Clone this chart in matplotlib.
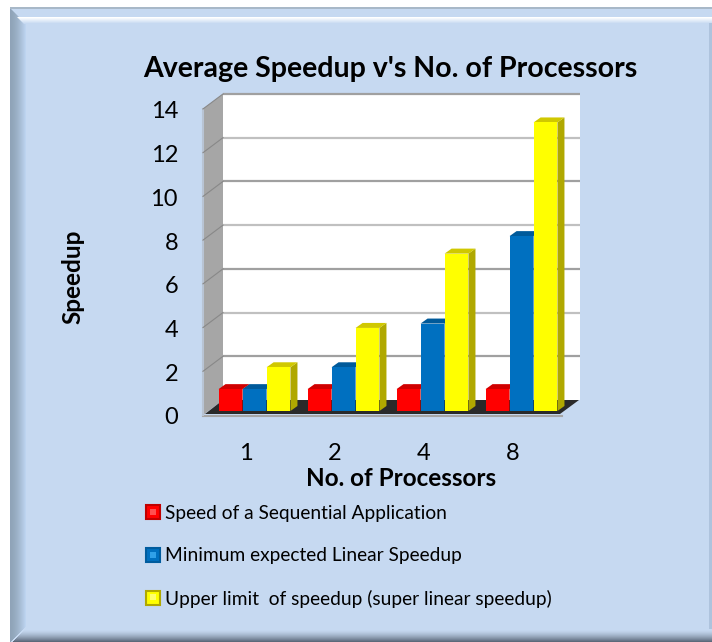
import matplotlib
matplotlib.use("Agg")
import matplotlib.pyplot as plt
from matplotlib.patches import Polygon, Rectangle, Patch
import numpy as np

plt.rcParams['font.family'] = ['Lato', 'DejaVu Sans']

# datos
procesadores = ['1', '2', '4', '8']
secuencial = [1, 1, 1, 1]
lineal = [1, 2, 4, 8]
superlineal = [2, 3.8, 7.2, 13.2]
yticks = [0, 2, 4, 6, 8, 10, 12, 14]

series = [secuencial, lineal, superlineal]
nombres = ['Speed of a Sequential Application',
           'Minimum expected Linear Speedup',
           'Upper limit  of speedup (super linear speedup)']
colores = ['#ff0000', '#0070c0', '#ffff00']
c_lado = ['#c00000', '#005c9e', '#b0a800']
c_arriba = ['#d00000', '#005a9a', '#d0c800']
c_brillo = ['#ff5050', '#30a0e8', '#ffff70']

W, H = 712, 642
fig = plt.figure(figsize=(W / 100, H / 100), dpi=100, facecolor='white')

# capa de fondo en pixeles: marco y paredes
bg = fig.add_axes([0, 0, 1, 1])
bg.set_xlim(0, W)
bg.set_ylim(H, 0)
bg.axis('off')
bg.add_patch(Rectangle((10, 8), W - 10, H - 8, color='#c6d9f1', lw=0))


def mezcla(c1, c2, t):
    return tuple(np.array(c1) * (1 - t) + np.array(c2) * t)


# bisel del marco
oscuro = (0.56, 0.64, 0.72)
claro = (0.74, 0.83, 0.94)
for i in range(16):
    bg.add_patch(Polygon([(10 + i, 8 + i), (11 + i, 9 + i), (11 + i, 642 - i), (10 + i, 642 - i)],
                         color=mezcla(oscuro, claro, (i / 15) ** 1.5), lw=0))
fondo = (0.776, 0.851, 0.945)
for i in range(7):
    bg.add_patch(Polygon([(17 + i, 17 + i), (W, 17 + i), (W, 18 + i), (18 + i, 18 + i)],
                         color=mezcla((1, 1, 1), fondo, i / 6), lw=0))
for i in range(13):
    x_ini = 25 - i
    bg.add_patch(Rectangle((x_ini, 629 + i), W - x_ini, 1,
                           color=mezcla(fondo, (0.36, 0.41, 0.48), (i / 12) ** 1.5), lw=0))
bg.add_patch(Rectangle((10, 7), W - 10, 1.5, color='#a8b8c8', lw=0))
bg.add_patch(Rectangle((709, 23), 3, 606, color='#aec3dd', lw=0))

# paredes del grafico
esc = 21.86
bg.add_patch(Rectangle((223, 94), 357, 306, color='white', lw=0))
bg.add_patch(Polygon([(203, 109), (223, 94), (223, 400), (203, 415)], color='#a6a6a6', lw=0))
bg.add_patch(Polygon([(205, 414), (223, 400), (579, 400), (560, 414)], color='#2a2a2a', lw=0))
bg.plot([203, 562], [415.5, 415.5], color='#a6a6a6', lw=1.5)
bg.plot([203, 203], [109, 415], color='#b8c4d4', lw=1.5)
for n, v in enumerate(yticks[1:]):
    yb = 400 - v * esc
    bg.plot([223, 580], [yb, yb], color='#a0a0a0' if n % 2 == 0 else '#c0c0c0', lw=1.6, solid_capstyle='butt')
    bg.plot([203, 223], [yb + 15, yb], color='#888888', lw=0.8)

# ejes principales, el plano de las barras
L, R, T, B = 210, 566, 411 - 14 * esc, 411
ax = fig.add_axes([L / W, 1 - B / H, (R - L) / W, (B - T) / H])
ax.patch.set_alpha(0)
ax.axis('off')
ax.set_xlim(-0.5, 3.5)
ax.set_ylim(0, 14)

ancho = 0.268
ddx = 7 / 89
ddy = 5 / esc
x = np.arange(len(procesadores))
handles = []
for j, vals in enumerate(series):
    xs = x + (j - 1) * 0.27
    for xi, v in zip(xs, vals):
        x0 = xi - ancho / 2
        x1 = xi + ancho / 2
        # lado y tapa
        ax.add_patch(Polygon([(x1, 0), (x1 + ddx, ddy), (x1 + ddx, v + ddy), (x1, v)],
                             color=c_lado[j], lw=0, zorder=2 + j))
        ax.add_patch(Polygon([(x0, v), (x0 + ddx, v + ddy), (x1 + ddx, v + ddy), (x1, v)],
                             color=c_arriba[j], lw=0, zorder=2 + j))
    ax.bar(xs, vals, width=ancho, color=colores[j], zorder=2.5 + j)
    handles.append(Patch(facecolor=colores[j], edgecolor=c_lado[j], lw=1.5, label=nombres[j]))

# etiquetas
for v in yticks:
    fig.text(178 / W, 1 - (418 - v * esc) / H, str(v), ha='right', va='center', fontsize=17, color='black')
for xi, p in zip(x, procesadores):
    ax.annotate(p, (xi, 0), xytext=(-9, -43), textcoords='offset pixels', ha='center', va='center',
                fontsize=17, annotation_clip=False)

fig.text(390 / W, 1 - 69 / H, "Average Speedup v's No. of Processors", ha='center', va='center', fontsize=20.5, fontweight='bold')
fig.text(401 / W, 1 - 479 / H, 'No. of Processors', ha='center', va='center', fontsize=17.5, fontweight='bold')
fig.text(73 / W, 1 - 277 / H, 'Speedup', ha='center', va='center', rotation=90, fontsize=17.5, fontweight='bold')

fig.legend(handles=handles, loc='upper left', bbox_to_anchor=(146 / W, 1 - 505 / H), frameon=False,
           fontsize=13.8, handlelength=0.73, handleheight=0.73, handletextpad=0.26, labelspacing=1.32,
           borderpad=0, borderaxespad=0)
# brillo de las claves de la leyenda
for yk, c in zip([512, 554.5, 597], c_brillo):
    fig.add_artist(Rectangle((150 / W, 1 - (yk + 3) / H), 6 / W, 6 / H, color=c, lw=0,
                             transform=fig.transFigure, zorder=10))

fig.savefig('out.png', dpi=100)
